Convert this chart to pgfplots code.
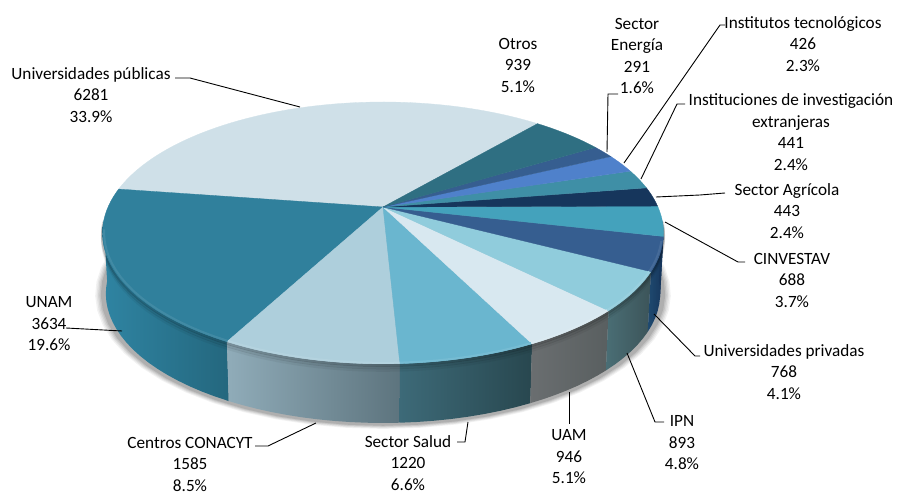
\documentclass[border=0pt]{standalone}
\usepackage{pgfplots}
\pgfplotsset{compat=1.18}
\usepackage{fontspec}
\setmainfont{Carlito}
\definecolor{tA}{HTML}{CFE0E8}\definecolor{sA}{HTML}{CFE0E8}\definecolor{eA}{HTML}{CFE0E8}
\definecolor{tB}{HTML}{30809C}\definecolor{sB}{HTML}{2F84A2}\definecolor{eB}{HTML}{24677E}
\definecolor{tC}{HTML}{AECFDC}\definecolor{sC}{HTML}{90ACB9}\definecolor{eC}{HTML}{5D747E}
\definecolor{tD}{HTML}{6AB6CF}\definecolor{sD}{HTML}{3D6A78}\definecolor{eD}{HTML}{28474F}
\definecolor{tE}{HTML}{D8E8F0}\definecolor{sE}{HTML}{6A6E70}\definecolor{eE}{HTML}{595F60}
\definecolor{tF}{HTML}{90CCDC}\definecolor{sF}{HTML}{4A6E75}\definecolor{eF}{HTML}{3C5459}
\definecolor{tG}{HTML}{365E90}\definecolor{sG}{HTML}{1F4A70}\definecolor{eG}{HTML}{16365C}
\definecolor{tH}{HTML}{44A2BC}\definecolor{sH}{HTML}{16365C}\definecolor{eH}{HTML}{16365C}
\definecolor{tI}{HTML}{16365C}\definecolor{sI}{HTML}{16365C}\definecolor{eI}{HTML}{16365C}
\definecolor{tJ}{HTML}{3F8FA6}\definecolor{sJ}{HTML}{3F8FA6}\definecolor{eJ}{HTML}{3F8FA6}
\definecolor{tK}{HTML}{4F81CB}\definecolor{sK}{HTML}{4F81CB}\definecolor{eK}{HTML}{4F81CB}
\definecolor{tL}{HTML}{365E90}\definecolor{sL}{HTML}{365E90}\definecolor{eL}{HTML}{365E90}
\definecolor{tM}{HTML}{2F6F82}\definecolor{sM}{HTML}{2F6F82}\definecolor{eM}{HTML}{2F6F82}
% value / colour letter
\def\slices{6281/A,3634/B,1585/C,1220/D,946/E,893/F,768/G,688/H,443/I,441/J,426/K,291/L,939/M}
\newcommand\proj[3]{%
  \pgfmathsetmacro\ss{sin(#1)}\pgfmathsetmacro\cc{cos(#1)}%
  \pgfmathsetmacro\dd{1+0.198*\ss}%
  \pgfmathsetmacro\px{383+275*#3*\cc/\dd}%
  \pgfmathsetmacro\py{#2-125.8*#3*\ss/\dd}}
\newcommand\sideband[3]{% lo hi colour letter
  \pgfmathsetmacro\lo{max(#1,186)}\pgfmathsetmacro\hi{min(#2,354)}%
  \pgfmathtruncatemacro\show{\hi>\lo ? 1 : 0}%
  \ifnum\show=1
    \pgfmathtruncatemacro\nn{max(1,ceil((\hi-\lo)/3))}%
    \gdef\coords{}%
    \foreach \k in {0,...,\nn}{%
      \pgfmathsetmacro\aa{\lo+\k*(\hi-\lo)/\nn}%
      \proj{\aa}{207}{1}\xdef\coords{\coords (\px,\py)}%
    }%
    \foreach \k in {\nn,...,0}{%
      \pgfmathsetmacro\aa{\lo+\k*(\hi-\lo)/\nn}%
      \proj{\aa}{268}{0.988}\xdef\coords{\coords (\px,\py)}%
    }%
    \edef\temp{\noexpand\addplot[left color=s#3,right color=e#3,draw=none] coordinates {\coords};}%
    \temp
  \fi}
\newcommand\arcline[6]{% lo hi cy scale options-expanded
  \gdef\coords{}%
  \pgfmathtruncatemacro\nn{max(1,ceil((#2-#1)/3))}%
  \foreach \k in {0,...,\nn}{%
    \pgfmathsetmacro\aa{#1+\k*(#2-#1)/\nn}%
    \proj{\aa}{#3}{#4}\xdef\coords{\coords (\px,\py)}%
  }%
  \edef\temp{\noexpand\addplot[#5,#6] coordinates {\coords};}\temp}
\begin{document}
\begin{tikzpicture}
\useasboundingbox (0,0) rectangle (898pt,494pt);
\begin{axis}[at={(0,0)},anchor=south west,scale only axis,width=898pt,height=494pt,xmin=0,xmax=898,ymin=0,ymax=494,
  y dir=reverse,axis lines=none,clip=false,no markers,enlargelimits=false]
% soft shadow
\foreach \sc/\op in {1.026/0.05,1.021/0.06,1.016/0.07,1.011/0.08,1.006/0.10}{%
  \gdef\coords{}%
  \foreach \k in {0,...,60}{%
    \pgfmathsetmacro\aa{\k*6}%
    \proj{\aa}{268}{\sc}\xdef\coords{\coords (\px,\py)}%
  }%
  \edef\temp{\noexpand\addplot[fill=black,fill opacity=\op,draw=none] coordinates {\coords};}\temp
}
% side walls
\gdef\tcur{49.7}
\foreach \v/\c in \slices{%
  \pgfmathsetmacro\dt{\v/185.55*3.6}%
  \pgfmathsetmacro\tend{\tcur+\dt}%
  \sideband{\tcur}{\tend}{\c}%
  \xdef\tcur{\tend}%
}
% darkening under the rim
\arcline{186}{354}{208.5}{1}{draw=black,draw opacity=0.16}{line width=3pt}
\arcline{186}{354}{211}{1}{draw=black,draw opacity=0.10}{line width=3pt}
\arcline{186}{354}{213.5}{1}{draw=black,draw opacity=0.05}{line width=3pt}
% top face
\gdef\tcur{49.7}
\foreach \v/\c in \slices{%
  \pgfmathsetmacro\dt{\v/185.55*3.6}%
  \pgfmathsetmacro\tend{\tcur+\dt}%
  \gdef\coords{(383,207)}%
  \pgfmathtruncatemacro\nn{max(2,ceil(\dt/2))}%
  \foreach \k in {0,...,\nn}{%
    \pgfmathsetmacro\aa{\tcur+\k*\dt/\nn}%
    \proj{\aa}{207}{1}\xdef\coords{\coords (\px,\py)}%
  }%
  \edef\temp{\noexpand\addplot[fill=t\c,draw=t\c,line width=0.3pt] coordinates {\coords\space (383,207)};}\temp
  \xdef\tcur{\tend}%
}
% lighter rim on the front
\gdef\tcur{49.7}
\foreach \v/\c in \slices{%
  \pgfmathsetmacro\dt{\v/185.55*3.6}%
  \pgfmathsetmacro\tend{\tcur+\dt}%
  \pgfmathsetmacro\lo{max(\tcur,190)}\pgfmathsetmacro\hi{min(\tend,345)}%
  \pgfmathtruncatemacro\show{\hi>\lo ? 1 : 0}%
  \ifnum\show=1
    \arcline{\lo}{\hi}{207}{0.994}{draw=t\c!92!white}{line width=2pt}
  \fi
  \xdef\tcur{\tend}%
}
% leader lines
\addplot[black,line width=0.9pt] coordinates {(175,78) (190,78) (300,107)};
\addplot[black,line width=0.9pt] coordinates {(607,152) (608,94) (618,94)};
\addplot[black,line width=0.9pt] coordinates {(624,163) (720,25) (725,25)};
\addplot[black,line width=0.9pt] coordinates {(641,179) (677,104) (685,104)};
\addplot[black,line width=0.9pt] coordinates {(656,197) (700,195) (725,193)};
\addplot[black,line width=0.9pt] coordinates {(665,222) (738,262) (745,262)};
\addplot[black,line width=0.9pt] coordinates {(654,314) (695,356) (700,356)};
\addplot[black,line width=0.9pt] coordinates {(627,353) (655,422) (664,422)};
\addplot[black,line width=0.9pt] coordinates {(569,392) (569,424)};
\addplot[black,line width=0.9pt] coordinates {(468,422) (465,442) (457,442)};
\addplot[black,line width=0.9pt] coordinates {(316,423) (268,446) (255,446)};
\addplot[black,line width=0.9pt] coordinates {(66,328) (122,331)};
% labels
\tikzset{lab/.style={align=center,inner sep=0pt,font=\fontsize{17.2}{21.5}\selectfont,text=black}}
\node[lab] at (axis cs:91,95) {Universidades públicas\\6281\\33.9\%};
\node[lab] at (axis cs:518,65) {Otros\\939\\5.1\%};
\node[lab] at (axis cs:637,56) {Sector\\Energía\\291\\1.6\%};
\node[lab] at (axis cs:803,44) {Institutos tecnológicos\\426\\2.3\%};
\node[lab] at (axis cs:791,132) {Instituciones de investigación\\extranjeras\\441\\2.4\%};
\node[lab] at (axis cs:787,211) {Sector Agrícola\\443\\2.4\%};
\node[lab] at (axis cs:792,280) {CINVESTAV\\688\\3.7\%};
\node[lab] at (axis cs:784,372) {Universidades privadas\\768\\4.1\%};
\node[lab] at (axis cs:682,443) {IPN\\893\\4.8\%};
\node[lab] at (axis cs:569,457) {UAM\\946\\5.1\%};
\node[lab] at (axis cs:408,463) {Sector Salud\\1220\\6.6\%};
\node[lab] at (axis cs:190,464) {Centros CONACYT\\1585\\8.5\%};
\node[lab] at (axis cs:49,324) {UNAM\\3634\\19.6\%};
\end{axis}
\end{tikzpicture}
\end{document}
